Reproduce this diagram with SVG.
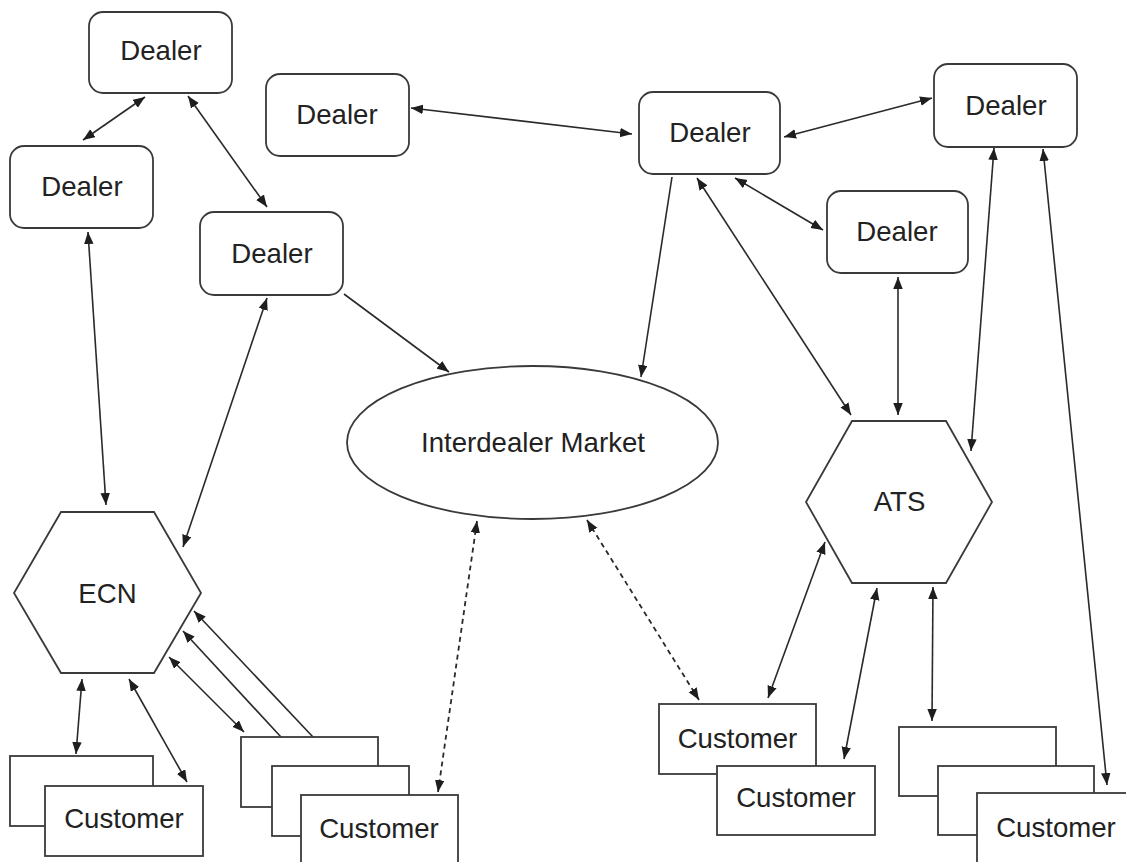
<svg xmlns="http://www.w3.org/2000/svg" width="1126" height="862" viewBox="0 0 1126 862">
<style>
.box{fill:#fff;stroke:#3a3a3a;stroke-width:1.8}
.t{font-family:"Liberation Sans",Arial,sans-serif;font-size:27.6px;fill:#222;text-anchor:middle}
.c{stroke:#2a2a2a;stroke-width:1.6;fill:none}
.bi{marker-start:url(#ah);marker-end:url(#ah)}
.one{marker-end:url(#ah)}
.d{stroke-dasharray:5 4;stroke-width:1.8}
</style>
<defs>
<marker id="ah" markerUnits="userSpaceOnUse" markerWidth="13" markerHeight="10" refX="12" refY="4.75" orient="auto-start-reverse">
<path d="M0,0 L12,4.75 L0,9.5 z" fill="#1e1e1e"/>
</marker>
</defs>
<rect width="1126" height="862" fill="#fff"/>

<g id="connectors">
<line class="c bi" x1="145" y1="97" x2="83" y2="140"/>
<line class="c bi" x1="188" y1="96" x2="267" y2="207"/>
<line class="c bi" x1="411" y1="108" x2="632" y2="134"/>
<line class="c bi" x1="784" y1="137" x2="932" y2="98"/>
<line class="c bi" x1="735" y1="178" x2="823" y2="230"/>
<line class="c bi" x1="88" y1="232" x2="106" y2="505"/>
<line class="c bi" x1="267" y1="298" x2="183" y2="547"/>
<line class="c one" x1="344" y1="294" x2="449" y2="372"/>
<line class="c one" x1="672" y1="177" x2="641" y2="377"/>
<line class="c bi" x1="697" y1="178" x2="851" y2="415"/>
<line class="c bi" x1="898" y1="277" x2="898" y2="415"/>
<line class="c bi" x1="994" y1="148" x2="971" y2="451"/>
<line class="c bi" x1="1043" y1="149" x2="1107" y2="785"/>
<line class="c bi" x1="82" y1="679" x2="76" y2="754"/>
<line class="c bi" x1="129" y1="679" x2="187" y2="782"/>
<line class="c bi" x1="169" y1="657" x2="244" y2="732"/>
<line class="c one" x1="281" y1="737" x2="183" y2="631"/>
<line class="c one" x1="313" y1="737" x2="194" y2="611"/>
<line class="c bi d" x1="477" y1="521" x2="438" y2="792"/>
<line class="c bi d" x1="587" y1="520" x2="699" y2="700"/>
<line class="c bi" x1="825" y1="542" x2="768" y2="698"/>
<line class="c bi" x1="877" y1="588" x2="844" y2="759"/>
<line class="c bi" x1="933" y1="587" x2="932" y2="721"/>
</g>

<g id="dealer1"><rect class="box" x="89" y="12" width="143" height="81" rx="14"/><text class="t" x="161" y="60">Dealer</text></g>
<g id="dealer2"><rect class="box" x="10" y="146" width="143" height="82" rx="14"/><text class="t" x="82" y="196">Dealer</text></g>
<g id="dealer3"><rect class="box" x="200" y="212" width="143" height="83" rx="14"/><text class="t" x="272" y="263">Dealer</text></g>
<g id="dealer4"><rect class="box" x="266" y="74" width="143" height="82" rx="14"/><text class="t" x="337" y="124">Dealer</text></g>
<g id="dealer5"><rect class="box" x="639" y="92" width="141" height="82" rx="14"/><text class="t" x="710" y="142">Dealer</text></g>
<g id="dealer6"><rect class="box" x="934" y="64" width="143" height="83" rx="14"/><text class="t" x="1006" y="115">Dealer</text></g>
<g id="dealer7"><rect class="box" x="827" y="191" width="141" height="82" rx="14"/><text class="t" x="897" y="241">Dealer</text></g>

<g id="market"><ellipse class="box" cx="532.5" cy="442.5" rx="185.5" ry="76.5"/><text class="t" x="533" y="452">Interdealer Market</text></g>

<g id="ecn"><polygon class="box" points="61,512 154,512 201,593 154,673 61,673 14,593"/><text class="t" x="107.5" y="603">ECN</text></g>
<g id="ats"><polygon class="box" points="852,421 946,421 992,502 946,583 852,583 806,502"/><text class="t" x="899.5" y="511">ATS</text></g>

<g id="customers-ecn-pair">
<rect class="box" x="10" y="756" width="143" height="70"/>
<rect class="box" x="45" y="786" width="158" height="70"/>
<text class="t" x="124" y="828">Customer</text>
</g>
<g id="customers-ecn-stack">
<rect class="box" x="241" y="737" width="137" height="70"/>
<rect class="box" x="272" y="766" width="137" height="70"/>
<rect class="box" x="301" y="795" width="157" height="80"/>
<text class="t" x="379" y="838">Customer</text>
</g>
<g id="customer-ats-1"><rect class="box" x="659" y="704" width="157" height="70"/><text class="t" x="737.5" y="748">Customer</text></g>
<g id="customer-ats-2"><rect class="box" x="717" y="766" width="158" height="69"/><text class="t" x="796" y="807">Customer</text></g>
<g id="customers-ats-stack">
<rect class="box" x="899" y="727" width="157" height="69"/>
<rect class="box" x="938" y="766" width="156" height="69"/>
<rect class="box" x="977" y="793" width="160" height="80"/>
<text class="t" x="1056" y="837">Customer</text>
</g>
</svg>
